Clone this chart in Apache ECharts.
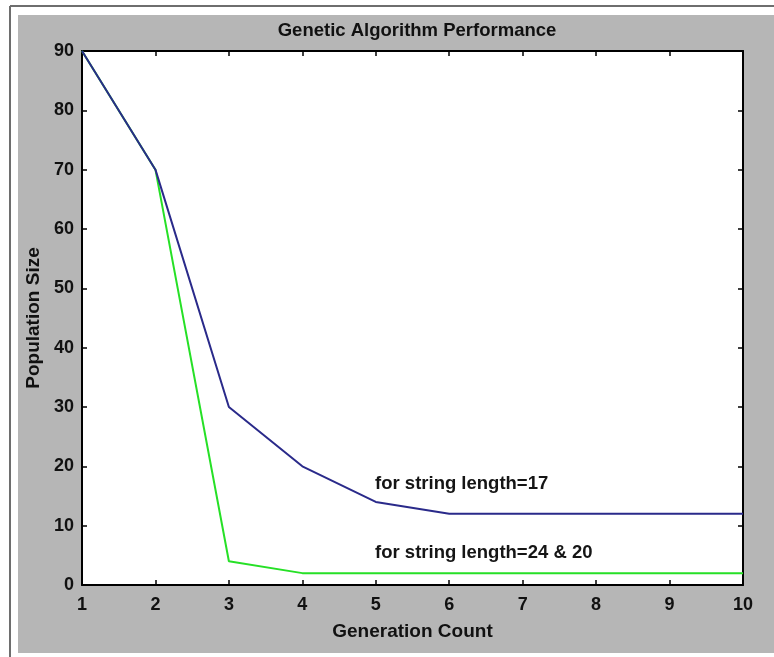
<!DOCTYPE html>
<html>
<head>
<meta charset="utf-8">
<script src="https://cdn.jsdelivr.net/npm/echarts@6/dist/echarts.min.js"></script>
<style>
html,body{margin:0;padding:0;background:#fff;}
#c{width:774px;height:657px;}
</style>
</head>
<body>
<div id="c"></div>
<script>
var generations = [1, 2, 3, 4, 5, 6, 7, 8, 9, 10];
var len17 = [90, 70, 30, 20, 14, 12, 12, 12, 12, 12];
var len24and20 = [90, 70, 4, 2, 2, 2, 2, 2, 2, 2];
var xTicks = [1, 2, 3, 4, 5, 6, 7, 8, 9, 10];
var yTicks = [0, 10, 20, 30, 40, 50, 60, 70, 80, 90];
var titleText = 'Genetic Algorithm Performance';
var xName = 'Generation Count';
var yName = 'Population Size';
var note17 = {text: 'for string length=17', x: 4.99, y: 17};
var note24 = {text: 'for string length=24 & 20', x: 4.99, y: 5.4};

function pairs(ys){ return generations.map(function(g,i){ return [g, ys[i]]; }); }

var FONT = '"Liberation Sans", Arial, Helvetica, sans-serif';
var chart = echarts.init(document.getElementById('c'), null, {renderer:'canvas'});

var tickLabel = {fontFamily: FONT, fontSize: 18, fontWeight: 'bold', color: '#111'};

function noteMark(n){
  return {
    coord: [n.x, n.y], symbol: 'circle', symbolSize: 0,
    label: {show: true, formatter: n.text, position: 'right', distance: 0,
      fontFamily: FONT, fontSize: 18.5, fontWeight: 'bold', color: '#151515', align: 'left', verticalAlign: 'middle'}
  };
}

chart.setOption({
  backgroundColor: '#fff',
  animation: false,
  title: {
    text: titleText, left: 412, top: 16, textAlign: 'center',
    textStyle: {fontFamily: FONT, fontSize: 18.5, fontWeight: 'bold', color: '#111'}
  },
  graphic: [
    {type: 'rect', z: -100, shape: {x: 18, y: 15, width: 756, height: 638}, style: {fill: '#b6b6b6'}},
    {type: 'line', z: -100, shape: {x1: 10, y1: 6, x2: 774, y2: 6}, style: {stroke: '#6e6e6e', lineWidth: 2}},
    {type: 'line', z: -100, shape: {x1: 10, y1: 6, x2: 10, y2: 657}, style: {stroke: '#6e6e6e', lineWidth: 2}}
  ],
  grid: {left: 82, top: 51, right: 31, bottom: 72, show: true, backgroundColor: '#fff', borderColor: '#000', borderWidth: 0},
  xAxis: [
    {type: 'value', min: 1, max: 10, interval: 1, position: 'bottom',
     axisLine: {show: true, onZero: false, lineStyle: {color: '#000', width: 2}},
     axisTick: {show: true, inside: true, length: 5, lineStyle: {color: '#000', width: 1.5}},
     axisLabel: Object.assign({margin: 11, formatter: function(v){ return xTicks.indexOf(v) >= 0 ? String(v) : ''; }}, tickLabel),
     splitLine: {show: false},
     name: xName, nameLocation: 'middle', nameGap: 37,
     nameTextStyle: {fontFamily: FONT, fontSize: 19, fontWeight: 'bold', color: '#111'}},
    {type: 'value', min: 1, max: 10, interval: 1, position: 'top',
     axisLine: {show: true, onZero: false, lineStyle: {color: '#000', width: 2}},
     axisTick: {show: true, inside: true, length: 5, lineStyle: {color: '#000', width: 1.5}},
     axisLabel: {show: false}, splitLine: {show: false}}
  ],
  yAxis: [
    {type: 'value', min: 0, max: 90, interval: 10, position: 'left',
     axisLine: {show: true, onZero: false, lineStyle: {color: '#000', width: 2}},
     axisTick: {show: true, inside: true, length: 5, lineStyle: {color: '#000', width: 1.5}},
     axisLabel: Object.assign({margin: 8, formatter: function(v){ return yTicks.indexOf(v) >= 0 ? String(v) : ''; }}, tickLabel),
     splitLine: {show: false},
     name: yName, nameLocation: 'middle', nameGap: 38,
     nameTextStyle: {fontFamily: FONT, fontSize: 19, fontWeight: 'bold', color: '#111'}},
    {type: 'value', min: 0, max: 90, interval: 10, position: 'right',
     axisLine: {show: true, onZero: false, lineStyle: {color: '#000', width: 2}},
     axisTick: {show: true, inside: true, length: 5, lineStyle: {color: '#000', width: 1.5}},
     axisLabel: {show: false}, splitLine: {show: false}}
  ],
  series: [
    {type: 'line', name: 'len24and20', data: pairs(len24and20), showSymbol: false, symbol: 'none',
     lineStyle: {color: '#26e026', width: 2}, itemStyle: {color: '#26e026'},
     markPoint: {silent: true, data: [noteMark(note24)]}},
    {type: 'line', name: 'len17', data: pairs(len17), showSymbol: false, symbol: 'none',
     lineStyle: {color: '#2a2a8a', width: 2}, itemStyle: {color: '#2a2a8a'},
     markPoint: {silent: true, data: [noteMark(note17)]}}
  ]
});
</script>
</body>
</html>
